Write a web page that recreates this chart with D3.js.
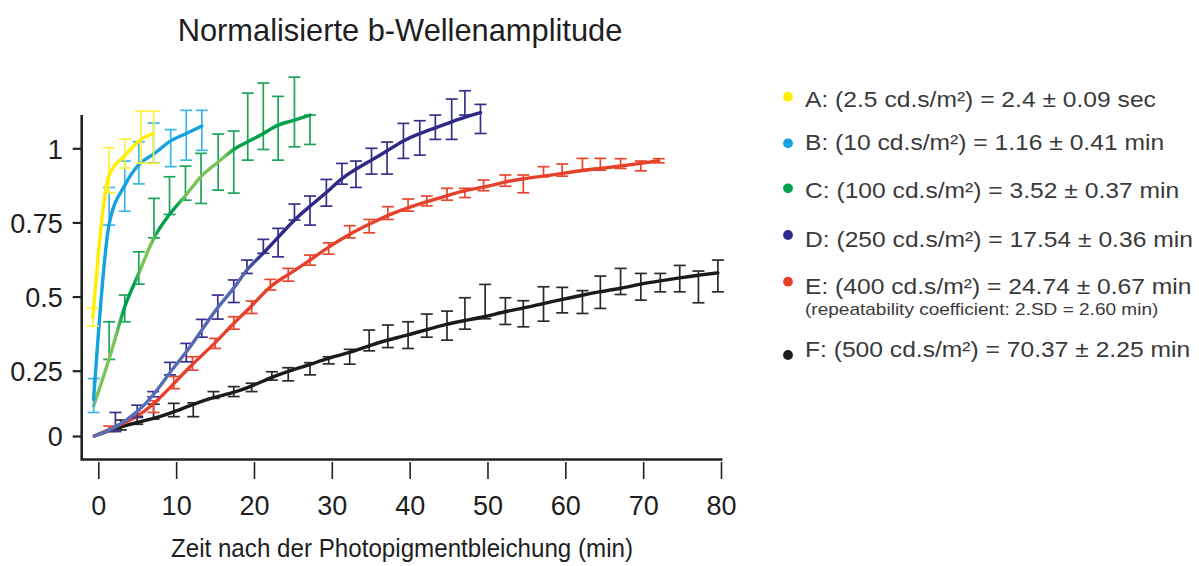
<!DOCTYPE html>
<html>
<head>
<meta charset="utf-8">
<script src="https://cdn.jsdelivr.net/npm/d3@7/dist/d3.min.js"></script>
<style>
  html, body { margin: 0; padding: 0; background: #fff; }
  svg { display: block; }
  .narrow { font-family: "Liberation Sans Narrow", "Arial Narrow", "Liberation Sans", Arial, sans-serif; }
  .legend { font-family: "Liberation Sans", Arial, sans-serif; }
</style>
</head>
<body>
<svg id="chart" width="1199" height="566"></svg>
<script>
// Recovery of the normalised b-wave amplitude after photopigment bleaching
// t = minutes after bleach, v = plotted curve, lo/hi = error bar limits

const tA  = [-0.7, 1.4, 3.4, 5.5, 7.1];
const vA  = [0.43, 0.91, 0.975, 1.03, 1.05];
const loA = [0.40, 0.85, 0.933, 0.95, 0.949];
const hiA = [0.461, 1.002, 1.031, 1.125, 1.125];

const tB  = [-0.6, 1.4, 3.4, 5.2, 7.1, 9.3, 11.3, 13.3];
const vB  = [0.14, 0.745, 0.875, 0.945, 0.98, 1.025, 1.05, 1.075];
const loB = [0.09, 0.741, 0.788, 0.88, 0.951, 0.938, 0.96, 0.993];
const hiB = [0.22, 0.868, 0.957, 1.022, 1.085, 1.063, 1.128, 1.128];

const tC  = [-0.6, 1.4, 3.4, 5.2, 7.15, 9.15, 11.2, 13.2, 15.4, 17.4, 19.2, 21.2, 23.1, 25.2, 27.2];
const vC  = [0.115, 0.29, 0.466, 0.578, 0.698, 0.777, 0.84, 0.905, 0.954, 0.996, 1.022, 1.05, 1.078, 1.095, 1.112];
const loC = [null, 0.288, 0.415, 0.542, 0.698, 0.777, 0.825, 0.814, 0.859, 0.849, 0.96, 0.996, 0.96, 1.005, 1.013];
const hiC = [null, 0.415, 0.505, 0.651, 0.831, 0.904, 0.94, 0.983, 1.048, 1.058, 1.186, 1.22, 1.175, 1.24, 1.112];

const tD  = [-0.5, 2.2, 5.0, 7.05, 9.2, 11.3, 13.3, 15.35, 17.4, 19.1, 21.2, 23.1, 25.2, 27.2, 29.3, 31.3, 33.1, 35.1, 37.1, 39.2, 41.3, 43.3, 45.4, 47.1, 49.1];
const vD  = [0, 0.03, 0.09, 0.153, 0.245, 0.311, 0.387, 0.466, 0.525, 0.595, 0.645, 0.70, 0.76, 0.805, 0.85, 0.9, 0.93, 0.96, 0.991, 1.027, 1.05, 1.069, 1.089, 1.105, 1.12];
const loD = [null, 0.017, 0.071, 0.15, 0.234, 0.28, 0.363, 0.424, 0.48, 0.578, 0.646, 0.634, 0.758, 0.741, 0.805, 0.879, 0.868, 0.913, 0.913, 0.966, 0.977, 1.03, 1.03, 1.112, 1.05];
const hiD = [null, 0.09, 0.118, 0.17, 0.278, 0.342, 0.423, 0.505, 0.556, 0.623, 0.693, 0.73, 0.812, 0.839, 0.895, 0.949, 0.957, 1.0, 1.021, 1.084, 1.093, 1.112, 1.166, 1.194, 1.148];

const tE  = [-0.5, 1.4, 4.9, 7.1, 9.7, 12.1, 15.0, 17.4, 19.7, 22.1, 24.4, 27.2, 29.6, 32.3, 34.8, 37.2, 39.8, 42.2, 44.8, 47.1, 49.5, 52.3, 54.6, 57.2, 59.6, 62.2, 64.5, 67.1, 69.7, 72.0];
const vE  = [0, 0.025, 0.07, 0.12, 0.2, 0.273, 0.342, 0.412, 0.466, 0.539, 0.573, 0.623, 0.668, 0.711, 0.744, 0.775, 0.8, 0.82, 0.84, 0.859, 0.868, 0.887, 0.898, 0.906, 0.915, 0.926, 0.932, 0.94, 0.949, 0.958];
const loE = [null, 0.017, null, 0.09, 0.181, 0.252, 0.325, 0.39, 0.443, 0.522, 0.552, 0.606, 0.643, 0.698, 0.715, 0.76, 0.788, 0.806, 0.825, 0.834, 0.857, 0.872, 0.85, 0.904, 0.906, 0.924, 0.926, 0.932, 0.924, 0.951];
const hiE = [null, 0.038, null, 0.135, 0.228, 0.297, 0.359, 0.432, 0.485, 0.558, 0.595, 0.64, 0.681, 0.739, 0.76, 0.803, 0.829, 0.839, 0.865, 0.865, 0.893, 0.91, 0.91, 0.938, 0.947, 0.966, 0.966, 0.965, 0.957, 0.965];

const tF  = [-0.5, 2.9, 5.0, 7.1, 9.7, 12.2, 14.8, 17.4, 19.7, 22.3, 24.4, 27.2, 29.6, 32.3, 34.8, 37.2, 39.8, 42.2, 44.8, 47.1, 49.7, 52.3, 54.6, 57.2, 59.6, 62.2, 64.5, 67.1, 69.7, 72.2, 74.7, 77.1, 79.6];
const vF  = [0, 0.036, 0.052, 0.066, 0.092, 0.122, 0.148, 0.166, 0.19, 0.226, 0.248, 0.27, 0.294, 0.31, 0.335, 0.354, 0.37, 0.389, 0.407, 0.419, 0.432, 0.45, 0.461, 0.477, 0.49, 0.505, 0.517, 0.527, 0.543, 0.553, 0.563, 0.572, 0.58];
const loF = [null, 0.023, 0.045, 0.065, 0.074, 0.074, 0.144, 0.151, 0.17, 0.214, 0.211, 0.234, 0.273, 0.272, 0.317, 0.328, 0.325, 0.363, 0.353, 0.39, 0.425, 0.406, 0.398, 0.417, 0.445, 0.443, 0.46, 0.507, 0.488, 0.516, 0.516, 0.479, 0.516];
const hiF = [null, 0.061, 0.075, 0.122, 0.125, 0.127, 0.17, 0.189, 0.202, 0.246, 0.26, 0.277, 0.297, 0.322, 0.387, 0.404, 0.415, 0.441, 0.451, 0.496, 0.541, 0.496, 0.486, 0.533, 0.531, 0.52, 0.569, 0.595, 0.578, 0.578, 0.605, 0.586, 0.623];

const xTicks = [0, 10, 20, 30, 40, 50, 60, 70, 80];
const yTicks = [0, 0.25, 0.5, 0.75, 1];
const yTickLabels = ["0", "0.25", "0.5", "0.75", "1"];

const legendLabels = [
  "A: (2.5 cd.s/m²) = 2.4 ± 0.09 sec",
  "B: (10 cd.s/m²) = 1.16 ± 0.41 min",
  "C: (100 cd.s/m²) = 3.52 ± 0.37 min",
  "D: (250 cd.s/m²) = 17.54 ± 0.36 min",
  "E: (400 cd.s/m²) = 24.74 ± 0.67 min",
  "F: (500 cd.s/m²) = 70.37 ± 2.25 min"
];
const legendNote = "(repeatability coefficient: 2.SD = 2.60 min)";

const titleText = "Normalisierte b-Wellenamplitude";
const xTitleText = "Zeit nach der Photopigmentbleichung (min)";

// ---------------------------------------------------------------
const svg = d3.select("#chart");

const x = d3.scaleLinear().domain([0, 80]).range([98.3, 721]);
// the zero line of this plot sits a little closer to 0.25 than the other steps
const y = d3.scaleLinear().domain([0, 0.25, 1]).range([436, 370.7, 148.3]);

const zip = (t, v, lo, hi) => t.map((d, i) => ({ t: d, v: v[i], lo: lo[i], hi: hi[i] }));

const series = [
  { key: "F", data: zip(tF, vF, loF, hiF), line: "#1b1b19", bar: "#2b2b2b", curve: d3.curveBasis },
  { key: "E", data: zip(tE, vE, loE, hiE), line: "#e6412b", bar: "#e8472f", curve: d3.curveBasis },
  { key: "D", data: zip(tD, vD, loD, hiD), line: "url(#gradD)", bar: "#3b2f8d", curve: d3.curveBasis },
  { key: "C", data: zip(tC, vC, loC, hiC), line: "url(#gradC)", bar: "#1ea45a", curve: d3.curveMonotoneX },
  { key: "B", data: zip(tB, vB, loB, hiB), line: "#14a3de", bar: "#3cb6e9", curve: d3.curveMonotoneX },
  { key: "A", data: zip(tA, vA, loA, hiA), line: "#ffee00", bar: "#fff23a", curve: d3.curveMonotoneX }
];

// gradients along the time axis for the C and D curves
const defs = svg.append("defs");
function timeGradient(id, stops) {
  const g = defs.append("linearGradient")
    .attr("id", id)
    .attr("gradientUnits", "userSpaceOnUse")
    .attr("x1", x(-1)).attr("x2", x(50)).attr("y1", 0).attr("y2", 0);
  const span = x(50) - x(-1);
  stops.forEach(([t, c]) => g.append("stop")
    .attr("offset", (x(t) - x(-1)) / span)
    .attr("stop-color", c));
}
const cLight = "#7cc45a", cDark = "#00a04c";
timeGradient("gradC", [
  [-1, cLight], [2.2, cLight], [3.2, cDark], [4.6, cDark], [5.6, cLight],
  [6.8, cLight], [7.8, cDark], [10.0, cDark], [11.2, cLight], [16.2, cLight],
  [17.6, cDark], [50, cDark]
]);
timeGradient("gradD", [
  [-1, "#5a70b8"], [18.5, "#5368b2"], [21.5, "#2f2987"], [50, "#2e2886"]
]);

// axes
const yAxis = d3.axisLeft(y)
  .tickValues(yTicks)
  .tickFormat((d, i) => yTickLabels[i])
  .tickSize(9)
  .tickPadding(10);
const gy = svg.append("g").attr("class", "narrow").attr("transform", "translate(81.7,0)").call(yAxis);
gy.select(".domain").remove();
gy.selectAll(".tick line").attr("stroke", "#222").attr("stroke-width", 2.2);
gy.selectAll(".tick text").attr("fill", "#1e1e1e").attr("font-size", 27).attr("dy", "0.36em");

const xAxis = d3.axisBottom(x)
  .tickValues(xTicks)
  .tickFormat(d3.format("d"))
  .tickSize(17)
  .tickPadding(17);
const gx = svg.append("g").attr("class", "narrow").attr("transform", "translate(0,462)").call(xAxis);
gx.select(".domain").remove();
gx.selectAll(".tick line").attr("stroke", "#222").attr("stroke-width", 1.6);
gx.selectAll(".tick text").attr("fill", "#1e1e1e").attr("font-size", 27);

// axis lines (L-shaped frame)
svg.append("path")
  .attr("d", `M81.7,115 V459.5 H722.5`)
  .attr("fill", "none")
  .attr("stroke", "#1f2321")
  .attr("stroke-width", 2.6);

// series: error bars and curves
const cap = 6;
series.forEach(s => {
  const g = svg.append("g").attr("class", "series-" + s.key);
  const bars = s.data.filter(d => d.lo != null && d.hi != null);
  const eb = g.selectAll("g.eb").data(bars).join("g").attr("class", "eb")
    .attr("stroke", s.bar).attr("stroke-width", 1.7).attr("fill", "none");
  eb.append("line")
    .attr("x1", d => x(d.t)).attr("x2", d => x(d.t))
    .attr("y1", d => y(d.lo)).attr("y2", d => y(d.hi));
  eb.append("line")
    .attr("x1", d => x(d.t) - cap).attr("x2", d => x(d.t) + cap)
    .attr("y1", d => y(d.lo)).attr("y2", d => y(d.lo));
  eb.append("line")
    .attr("x1", d => x(d.t) - cap).attr("x2", d => x(d.t) + cap)
    .attr("y1", d => y(d.hi)).attr("y2", d => y(d.hi));
  const line = d3.line()
    .x(d => x(d.t))
    .y(d => y(d.v))
    .curve(s.curve);
  g.append("path")
    .datum(s.data)
    .attr("d", line)
    .attr("fill", "none")
    .attr("stroke", s.line)
    .attr("stroke-width", 3.4)
    .attr("stroke-linejoin", "round")
    .attr("stroke-linecap", "round");
});

// title and axis title (slightly condensed)
svg.append("text").attr("class", "narrow")
  .attr("transform", "translate(400,41) scale(0.963,1)")
  .attr("text-anchor", "middle")
  .attr("font-size", 32)
  .attr("fill", "#1e1e1e")
  .text(titleText);

svg.append("text").attr("class", "narrow")
  .attr("transform", "translate(402,557) scale(0.93,1)")
  .attr("text-anchor", "middle")
  .attr("font-size", 26)
  .attr("fill", "#1e1e1e")
  .text(xTitleText);

// legend (slightly widened lettering)
const legendColors = ["#ffee00", "#16a4de", "#00a04c", "#30288a", "#e6412b", "#1b1d1f"];
const legendBase = [106.7, 150, 198.3, 246.7, 294, 356.7];
const legendDotY = [96.7, 143.3, 188.3, 235, 281.7, 355];
const lg = svg.append("g").attr("class", "legend");
lg.selectAll("circle").data(legendLabels).join("circle")
  .attr("cx", 788).attr("cy", (d, i) => legendDotY[i]).attr("r", 4.9)
  .attr("fill", (d, i) => legendColors[i]);
lg.selectAll("text.item").data(legendLabels).join("text")
  .attr("class", "item")
  .attr("transform", (d, i) => `translate(805,${legendBase[i]}) scale(1.12,1)`)
  .attr("font-size", 22)
  .attr("fill", "#3a3a3a")
  .text(d => d);
lg.append("text")
  .attr("transform", "translate(805,315) scale(1.12,1)")
  .attr("font-size", 17)
  .attr("fill", "#3a3a3a")
  .text(legendNote);
</script>
</body>
</html>
